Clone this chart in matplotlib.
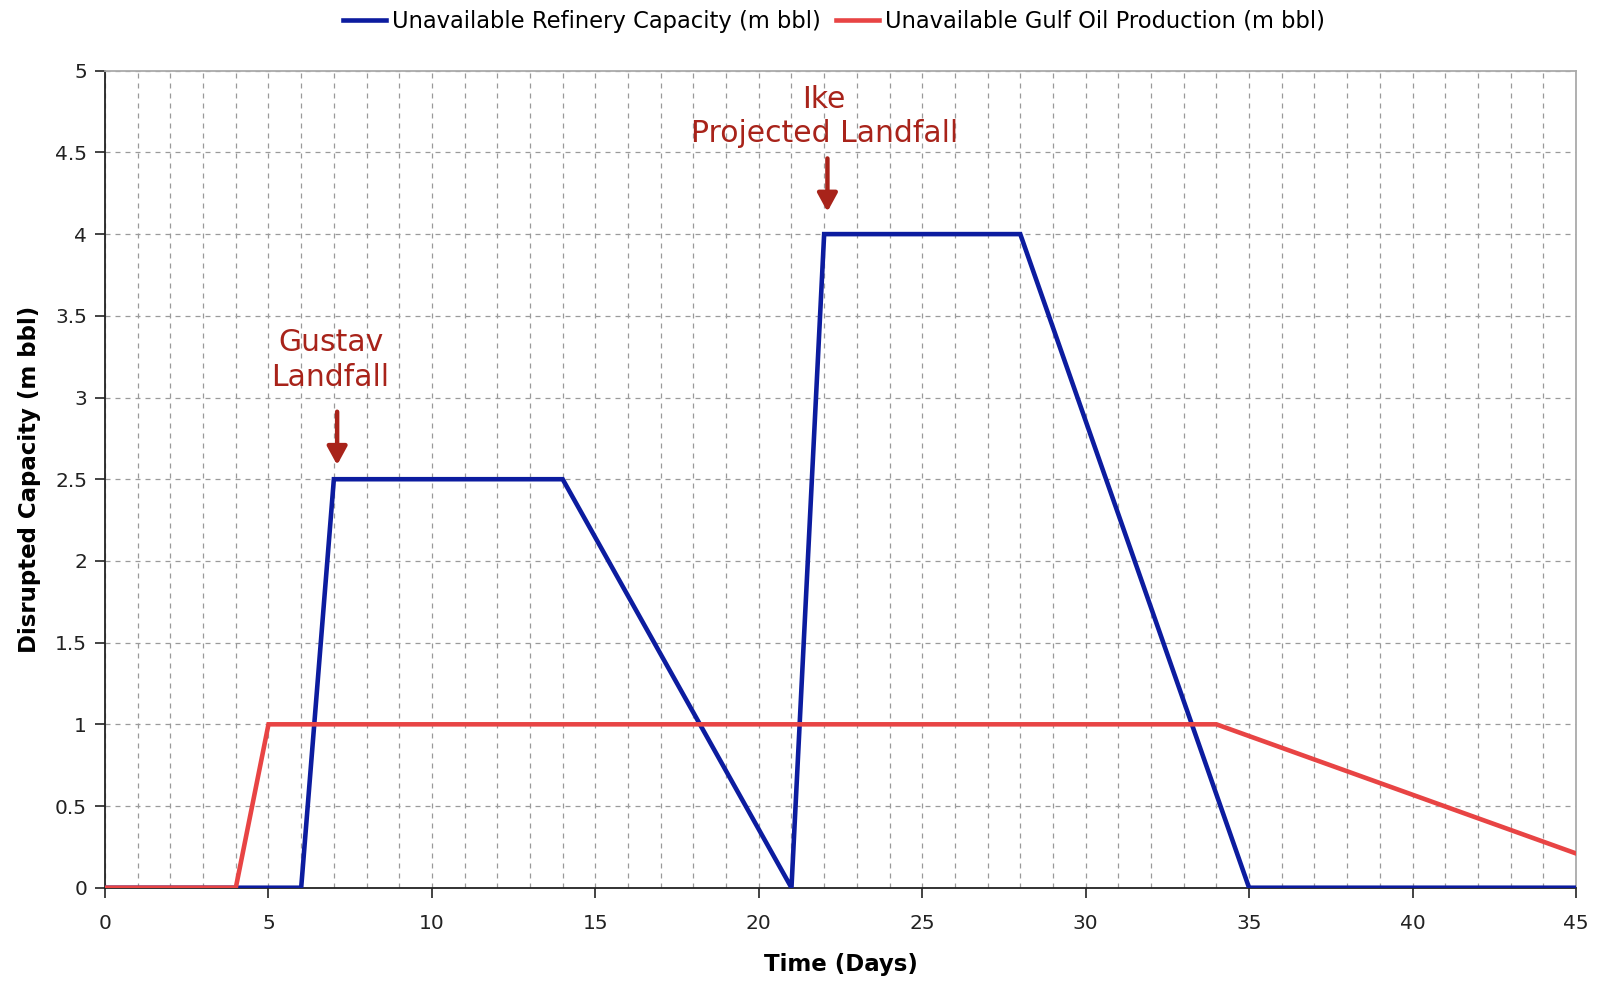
import numpy as np
import matplotlib
matplotlib.use("Agg")
import matplotlib.pyplot as plt
from matplotlib.ticker import MultipleLocator

# data
refinery_days = [0, 6, 7, 14, 21, 22, 28, 35, 45]
refinery_cap = [0, 0, 2.5, 2.5, 0, 4, 4, 0, 0]
gulf_days = [0, 4, 5, 34, 45]
gulf_prod = [0, 0, 1, 1, 0.21]

notes = ["Gustav\nLandfall", "Ike\nProjected Landfall"]
note_text_xy = [(6.9, 3.23), (22.0, 4.72)]
note_arrow_x = [7.1, 22.1]
note_arrow_y = [(2.93, 2.57), (4.48, 4.12)]

BLUE = "#0c1c9f"
RED = "#e84444"
NOTE = "#a8231a"

plt.rcParams['font.family'] = ['DejaVu Sans']

fig = plt.figure(figsize=(16.04, 9.82), dpi=100)
ax = fig.add_axes([0.0655, 0.096, 0.917, 0.832])

ax.plot(refinery_days, refinery_cap, color=BLUE, lw=3.3,
        label='Unavailable Refinery Capacity (m bbl)', solid_joinstyle='miter', zorder=3)
ax.plot(gulf_days, gulf_prod, color=RED, lw=3.3,
        label='Unavailable Gulf Oil Production (m bbl)', solid_joinstyle='miter', zorder=4)

ax.set_xlim(0, 45)
ax.set_ylim(0, 5)
ax.xaxis.set_major_locator(MultipleLocator(5))
ax.xaxis.set_minor_locator(MultipleLocator(1))
ax.set_yticks(np.arange(0, 5.01, 0.5))
ax.set_yticklabels(['0', '0.5', '1', '1.5', '2', '2.5', '3', '3.5', '4', '4.5', '5'])

ax.grid(True, which='both', axis='x', color='#9a9a9a', ls=(0, (4, 4)), lw=0.9)
ax.grid(True, which='major', axis='y', color='#9a9a9a', ls=(0, (4, 4)), lw=0.9)
ax.set_axisbelow(True)

ax.tick_params(axis='both', which='major', direction='out', length=7, width=1.2,
               labelsize=14.5, colors='#222222')
ax.tick_params(axis='x', which='major', pad=12)
ax.tick_params(axis='y', which='major', pad=6)
ax.tick_params(axis='x', which='minor', length=0)

for side in ['left', 'bottom']:
    ax.spines[side].set_color('#222222')
    ax.spines[side].set_linewidth(1.3)
for side in ['top', 'right']:
    ax.spines[side].set_color('#aaaaaa')
    ax.spines[side].set_linewidth(1.3)

ax.set_xlabel('Time (Days)', fontsize=16.5, fontweight='bold', labelpad=14)
ax.set_ylabel('Disrupted Capacity (m bbl)', fontsize=16.5, fontweight='bold', labelpad=10)

for txt, (tx, ty), axx, (y0, y1) in zip(notes, note_text_xy, note_arrow_x, note_arrow_y):
    ax.text(tx, ty, txt, color=NOTE, fontsize=21.5, ha='center', va='center',
            linespacing=1.25, zorder=5)
    ax.annotate('', xy=(axx, y1), xytext=(axx, y0),
                arrowprops=dict(arrowstyle='-|>,head_length=1.1,head_width=0.6',
                                color=NOTE, lw=3.2), zorder=5)

fig.legend(loc='upper center', bbox_to_anchor=(0.52, 1.011), ncol=2, frameon=False,
           fontsize=16.3, handlelength=1.9, handletextpad=0.25, columnspacing=0.7)

fig.savefig('out.png', dpi=100)
